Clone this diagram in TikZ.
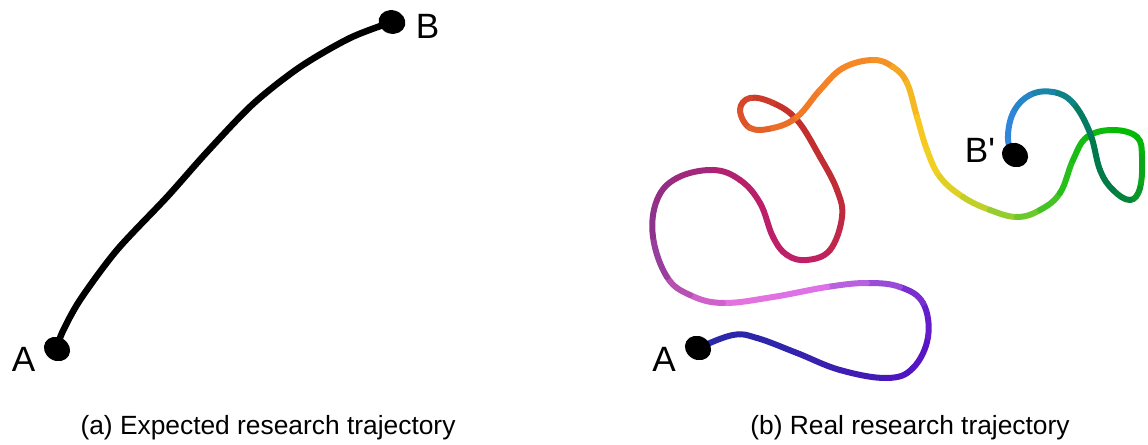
\documentclass[tikz,border=0pt]{standalone}
\usepackage{fontspec}
\setmainfont{Liberation Sans}
\usetikzlibrary{shapes.geometric,calc}
\definecolor{tr0}{HTML}{2A2AA8}
\definecolor{tr1}{HTML}{2C26AA}
\definecolor{tr2}{HTML}{3A1FB0}
\definecolor{tr3}{HTML}{5212C4}
\definecolor{tr4}{HTML}{6A20CC}
\definecolor{tr5}{HTML}{A858DC}
\definecolor{tr6}{HTML}{EE7AE8}
\definecolor{tr7}{HTML}{C45ABE}
\definecolor{tr8}{HTML}{8A3590}
\definecolor{tr9}{HTML}{9A2A80}
\definecolor{tr10}{HTML}{B8206A}
\definecolor{tr11}{HTML}{BC1E68}
\definecolor{tr12}{HTML}{C0206A}
\definecolor{tr13}{HTML}{C02A40}
\definecolor{tr14}{HTML}{C02E30}
\definecolor{tr15}{HTML}{C83428}
\definecolor{tr16}{HTML}{D84A2A}
\definecolor{tr17}{HTML}{E86A2A}
\definecolor{tr18}{HTML}{F58025}
\definecolor{tr19}{HTML}{F58A25}
\definecolor{tr20}{HTML}{F2B024}
\definecolor{tr21}{HTML}{F8D020}
\definecolor{tr22}{HTML}{D8D028}
\definecolor{tr23}{HTML}{80CC30}
\definecolor{tr24}{HTML}{30C020}
\definecolor{tr25}{HTML}{10BB10}
\definecolor{tr26}{HTML}{00BB00}
\definecolor{tr27}{HTML}{10A020}
\definecolor{tr28}{HTML}{007A44}
\definecolor{tr29}{HTML}{007A50}
\definecolor{tr30}{HTML}{128498}
\definecolor{tr31}{HTML}{2E86D8}
\definecolor{tr32}{HTML}{3388E0}
\tikzset{
  blob/.style={ellipse,fill=black,minimum width=0.54cm,minimum height=0.47cm,inner sep=0pt},
  ptlabel/.style={font=\fontsize{20}{24}\selectfont,inner sep=0pt},
  subcap/.style={font=\fontsize{15}{18}\selectfont,inner sep=0pt},
  trail/.style={line width=0.12cm,line cap=round}
}
\begin{document}
\begin{tikzpicture}[x=0.02cm,y=-0.02cm]
  \useasboundingbox (0,0) rectangle (1148,445);
  \coordinate (ea) at (57,349);
  \coordinate (eb) at (392,22);
  \draw[trail,line width=0.13cm] plot[smooth] coordinates {(ea) (62,333) (80,300)
    (117,250) (167,197) (207,152) (253,104) (300,67) (350,38) (eb)};
  \foreach \x/\y [count=\n from 0] in {698/348, 733/335, 757/338, 797/353,
    840/370, 887/378, 913/368, 928/337, 923/303, 900/287, 867/283, 827/287, 773/297,
    723/303, 690/295, 667/277, 653/237, 657/200, 677/178, 713/170, 740/180, 760/203,
    773/237, 787/255, 807/260, 830/250, 842/217, 837/190, 820/157, 797/120, 773/103,
    750/98, 740/110, 750/128, 773/128, 797/117, 820/90, 843/68, 873/60, 893/67,
    907/83, 917/117, 927/150, 940/177, 963/197, 990/210, 1017/217, 1040/210,
    1060/193, 1073/160, 1087/137, 1113/130, 1137/137, 1142/157, 1140/188, 1130/200,
    1113/190, 1100/170, 1090/133, 1073/103, 1053/92, 1030/95, 1013/113, 1008/140, 1015/155}
    \coordinate (p\n) at (\x,\y);
  \foreach \i in {0,...,63}{
    \pgfmathtruncatemacro\h{max(\i-1,0)}
    \pgfmathtruncatemacro\j{\i+1}
    \pgfmathtruncatemacro\k{min(\i+2,64)}
    \pgfmathtruncatemacro\sa{int((2*\i+1)/4)}
    \pgfmathtruncatemacro\sb{\sa+1}
    \pgfmathsetmacro\wb{mod(2*\i+1,4)*25}
    \colorlet{cur}{tr\sb!\wb!tr\sa}
    \draw[trail,cur] (p\i) .. controls ($(p\i)+0.18*(p\j)-0.18*(p\h)$)
      and ($(p\j)-0.18*(p\k)+0.18*(p\i)$) .. (p\j);
  }
  \node[blob,rotate=-30] (dotA) at (ea) {};
  \node[blob,rotate=-15] (dotB) at (eb) {};
  \node[blob,rotate=-30] (dotA2) at (p0) {};
  \node[blob,rotate=-30] (dotB2) at (p64) {};
  \node[ptlabel] (labA) at (23.5,359.5) {A};
  \node[ptlabel] (labB) at (427.5,26.5) {B};
  \node[ptlabel] (labA2) at (664,359.5) {A};
  \node[ptlabel] (labB2) at (980,150.5) {B\textquotesingle};
  \node[subcap] (capA) at (268,428) {(a) Expected research trajectory};
  \node[subcap] (capB) at (910,428) {(b) Real research trajectory};
\end{tikzpicture}
\end{document}
